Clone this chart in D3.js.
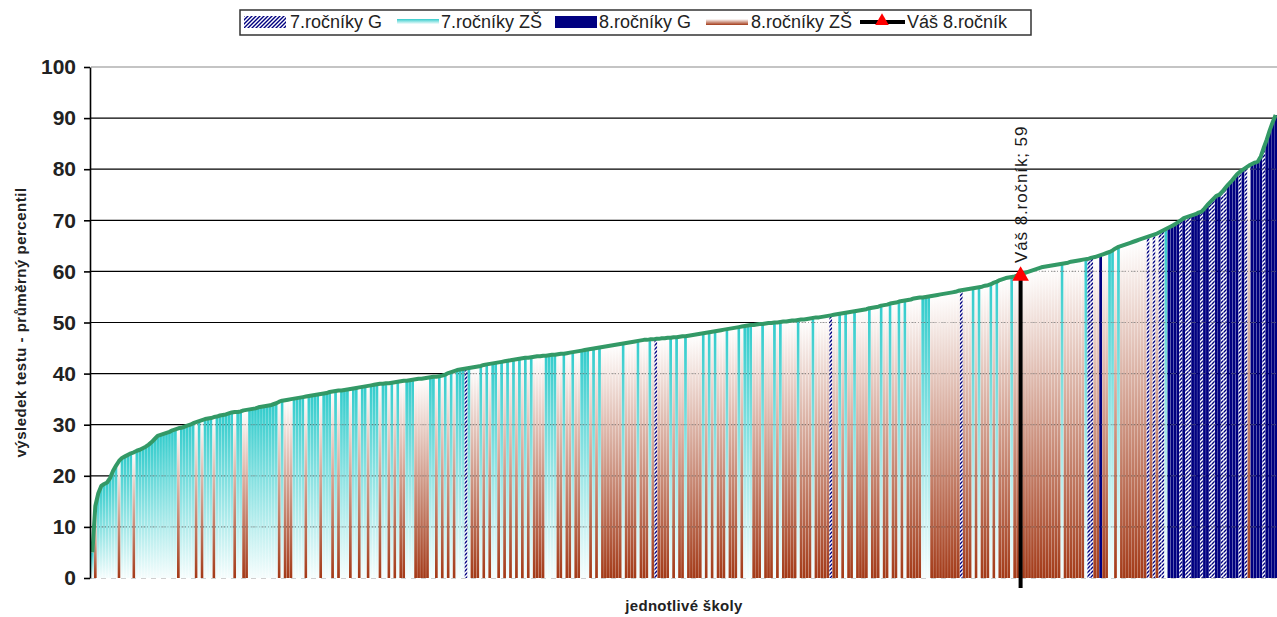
<!DOCTYPE html>
<html>
<head>
<meta charset="utf-8">
<script src="https://cdn.jsdelivr.net/npm/d3@7"></script>
<style>
    body { margin: 0; background: #fff; }
    text { font-family: "Liberation Sans", Arial, sans-serif; }
</style>
</head>
<body>
<svg id="graf" width="1277" height="617"></svg>
<script>
// výsledky jednotlivých škol, seřazené vzestupně
var hodnotySkol = [
    5.0, 14.1, 16.6, 18.0, 18.4, 18.7, 19.6, 21.0, 22.0, 22.9,
    23.5, 23.8, 24.1, 24.4, 24.6, 24.9, 25.1, 25.4, 25.7, 26.1,
    26.6, 27.2, 27.8, 28.0, 28.2, 28.4, 28.6, 28.9, 29.1, 29.3,
    29.4, 29.6, 29.8, 30.0, 30.3, 30.5, 30.7, 30.9, 31.1, 31.2,
    31.3, 31.5, 31.6, 31.8, 31.9, 32.0, 32.2, 32.4, 32.5, 32.5,
    32.6, 32.8, 32.9, 33.0, 33.1, 33.2, 33.4, 33.5, 33.6, 33.7,
    33.8, 34.0, 34.2, 34.5, 34.7, 34.8, 34.9, 35.0, 35.1, 35.2,
    35.3, 35.4, 35.5, 35.6, 35.7, 35.8, 35.9, 36.0, 36.1, 36.2,
    36.4, 36.5, 36.6, 36.7, 36.7, 36.8, 36.9, 37.0, 37.1, 37.2,
    37.3, 37.4, 37.5, 37.6, 37.7, 37.8, 37.9, 38.0, 38.0, 38.1,
    38.1, 38.2, 38.3, 38.4, 38.5, 38.6, 38.6, 38.7, 38.8, 38.9,
    39.0, 39.0, 39.1, 39.2, 39.3, 39.4, 39.4, 39.5, 39.6, 39.8,
    40.1, 40.3, 40.5, 40.7, 40.8, 40.9, 41.0, 41.1, 41.2, 41.3,
    41.4, 41.5, 41.7, 41.8, 41.9, 42.0, 42.1, 42.2, 42.3, 42.4,
    42.5, 42.6, 42.7, 42.8, 42.9, 43.0, 43.1, 43.1, 43.2, 43.3,
    43.4, 43.4, 43.5, 43.5, 43.6, 43.7, 43.7, 43.8, 43.9, 43.9,
    44.0, 44.1, 44.2, 44.3, 44.4, 44.5, 44.6, 44.7, 44.8, 44.9,
    45.0, 45.1, 45.2, 45.3, 45.4, 45.5, 45.6, 45.7, 45.8, 45.9,
    46.0, 46.1, 46.2, 46.3, 46.4, 46.5, 46.6, 46.6, 46.7, 46.7,
    46.8, 46.8, 46.9, 46.9, 47.0, 47.0, 47.1, 47.1, 47.2, 47.3,
    47.3, 47.4, 47.5, 47.6, 47.7, 47.8, 47.9, 48.0, 48.1, 48.2,
    48.3, 48.4, 48.5, 48.6, 48.7, 48.8, 48.9, 49.0, 49.1, 49.2,
    49.3, 49.4, 49.5, 49.5, 49.6, 49.7, 49.7, 49.8, 49.9, 49.9,
    50.0, 50.0, 50.1, 50.2, 50.2, 50.3, 50.4, 50.4, 50.5, 50.6,
    50.6, 50.7, 50.8, 50.9, 51.0, 51.0, 51.1, 51.2, 51.3, 51.4,
    51.5, 51.6, 51.7, 51.8, 51.9, 52.0, 52.1, 52.2, 52.3, 52.4,
    52.5, 52.6, 52.8, 52.9, 53.0, 53.1, 53.3, 53.4, 53.5, 53.7,
    53.8, 53.9, 54.1, 54.2, 54.3, 54.4, 54.5, 54.7, 54.8, 54.9,
    54.9, 55.0, 55.1, 55.2, 55.3, 55.4, 55.5, 55.6, 55.7, 55.8,
    55.9, 56.0, 56.2, 56.3, 56.4, 56.5, 56.6, 56.7, 56.8, 56.9,
    57.0, 57.2, 57.3, 57.5, 57.8, 58.0, 58.3, 58.5, 58.7, 58.8,
    58.9, 59.0, 59.2, 59.3, 59.6, 59.8, 60.0, 60.2, 60.4, 60.6,
    60.8, 60.9, 61.0, 61.1, 61.2, 61.3, 61.4, 61.5, 61.6, 61.7,
    61.9, 62.0, 62.1, 62.2, 62.3, 62.4, 62.5, 62.7, 62.8, 63.0,
    63.2, 63.4, 63.6, 63.8, 64.1, 64.5, 64.8, 65.0, 65.2, 65.4,
    65.6, 65.8, 66.0, 66.2, 66.4, 66.6, 66.8, 67.0, 67.2, 67.4,
    67.7, 68.0, 68.3, 68.6, 68.9, 69.2, 69.6, 70.0, 70.4, 70.6,
    70.8, 71.0, 71.2, 71.5, 71.7, 72.3, 73.0, 73.6, 74.2, 74.8,
    75.0, 75.6, 76.3, 77.0, 77.6, 78.3, 79.0, 79.5, 79.9, 80.3,
    80.7, 81.0, 81.3, 81.5, 82.5, 84.2, 85.8, 87.6, 89.2, 90.6
];

// typ školy: h = 7.ročníky G, c = 7.ročníky ZŠ, g = 8.ročníky G, b = 8.ročníky ZŠ
var typySkol = [
    "cbcccccccb", "ccccbccccc", "cccccccccb", "cccccbcbcc", "cbccccccbc",
    "cbbccccccc", "cccbcbbbcc", "ccbccccbcc", "cbcbcccbcc", "bccbcccbcc",
    "bcbcbbcccb", "bbbbccbcbc", "bcbccchcbb", "bcbcbccbcb", "cbcbcbcbcb",
    "bbbccccbbc", "bbcbbcccbc", "bcbbbbbbbc", "bbbbcbbbcb", "hbbbbcbcbb",
    "cbbbbbcbcb", "cbbbcbbbcb", "cccbbbcbbb", "cbcbbbbbcb", "bbbcbbbbbh",
    "bbcbcbbcbb", "bbcbbbcbbc", "bbcbcbbbbb", "cccbbbbbbb", "bbbhbbbcbc",
    "bbbcbcbbbb", "cbbbbbbbbb", "bbbbbbbcbb", "bbbbbchhbb", "gbbccbcbbb",
    "bbbbbbhbhb", "hhcgggghgh", "hggghgghhg", "ghhgggghgh", "bgggghgggg"
].join("").split("");

var yTicks = [0, 10, 20, 30, 40, 50, 60, 70, 80, 90, 100];
var legendaPopisky = ["7.ročníky G", "7.ročníky ZŠ", "8.ročníky G", "8.ročníky ZŠ", "Váš 8.ročník"];
var vasIndex = 313;
var vasHodnota = 59.3;
var vasPopisek = "Váš 8.ročník";

var plotLeft = 91, plotRight = 1277, plotTop = 67, plotBottom = 578;

var palette = {
    "cyan": "#33cccc",
    "brown": "#a33a18",
    "navy": "#000080",
    "green": "#339966",
    "red": "#ff0000",
    "text": "#1a1a1a"
};

var x = d3.scaleBand()
    .domain(d3.range(hodnotySkol.length))
    .range([plotLeft, plotRight])
    .paddingInner(0.08);

var y = d3.scaleLinear()
    .domain([0, 100])
    .range([plotBottom, plotTop]);

var svg = d3.select("#graf");
var defs = svg.append("defs");

var grCyan = defs.append("linearGradient").attr("id", "grCyan")
    .attr("x1", 0).attr("y1", 0).attr("x2", 0).attr("y2", 1);
grCyan.append("stop").attr("offset", "0%").attr("stop-color", palette.cyan);
grCyan.append("stop").attr("offset", "100%").attr("stop-color", "#f6fdfd");

var grBrown = defs.append("linearGradient").attr("id", "grBrown")
    .attr("x1", 0).attr("y1", 0).attr("x2", 0).attr("y2", 1);
grBrown.append("stop").attr("offset", "0%").attr("stop-color", "#ffffff");
grBrown.append("stop").attr("offset", "100%").attr("stop-color", palette.brown);

var hatch = defs.append("pattern").attr("id", "hatch")
    .attr("patternUnits", "userSpaceOnUse")
    .attr("width", 4).attr("height", 4);
hatch.append("rect").attr("width", 4).attr("height", 4).attr("fill", "#ffffff");
hatch.append("path")
    .attr("d", "M-1,1 l2,-2 M0,4 l4,-4 M3,5 l2,-2")
    .attr("stroke", palette.navy)
    .attr("stroke-width", 1.4);

var vyplne = {
    "c": "url(#grCyan)",
    "b": "url(#grBrown)",
    "g": palette.navy,
    "h": "url(#hatch)"
};

//MŘÍŽKA
svg.append("g").selectAll("line")
    .data(yTicks.filter(function(t) { return t > 0; }))
    .enter().append("line")
    .attr("x1", plotLeft).attr("x2", plotRight)
    .attr("y1", function(d) { return y(d); })
    .attr("y2", function(d) { return y(d); })
    .attr("stroke", function(d) { return d == 100 ? "#8a8a8a" : "#000000"; })
    .attr("stroke-width", 1.2);

//SLOUPCE
var bw = x.bandwidth();
svg.append("g").selectAll("rect")
    .data(hodnotySkol)
    .enter().append("rect")
    .attr("x", function(d, i) { return x(i); })
    .attr("y", function(d) { return y(d); })
    .attr("width", bw)
    .attr("height", function(d) { return y(0) - y(d); })
    .attr("fill", function(d, i) { return vyplne[typySkol[i]]; });

// mřížka přes sloupce - jen světle čárkovaně
var clip = defs.append("clipPath").attr("id", "podSloupci");
clip.selectAll("rect")
    .data(hodnotySkol)
    .enter().append("rect")
    .attr("x", function(d, i) { return x(i) - 1; })
    .attr("y", function(d) { return y(d); })
    .attr("width", bw + 2)
    .attr("height", function(d) { return y(0) - y(d); });

svg.append("g").attr("clip-path", "url(#podSloupci)")
    .selectAll("line")
    .data(yTicks.filter(function(t) { return t > 0 && t < 100; }))
    .enter().append("line")
    .attr("x1", plotLeft).attr("x2", plotRight)
    .attr("y1", function(d) { return y(d); })
    .attr("y2", function(d) { return y(d); })
    .attr("stroke", "#8c8c8c")
    .attr("stroke-opacity", 0.45)
    .attr("stroke-dasharray", "5,5");

svg.append("line")
    .attr("x1", plotLeft).attr("x2", plotRight)
    .attr("y1", y(0) + 0.5).attr("y2", y(0) + 0.5)
    .attr("stroke", "#cfcfcf")
    .attr("stroke-dasharray", "5,5");

//ČÁRA
var cara = d3.line()
    .x(function(d, i) { return x(i) + bw / 2; })
    .y(function(d) { return y(d); });

svg.append("path")
    .datum(hodnotySkol)
    .attr("d", cara)
    .attr("fill", "none")
    .attr("stroke", palette.green)
    .attr("stroke-width", 4)
    .attr("stroke-linejoin", "round");

//VÁŠ 8.ROČNÍK
var vx = x(vasIndex) + bw / 2;
svg.append("line")
    .attr("x1", vx).attr("x2", vx)
    .attr("y1", y(vasHodnota)).attr("y2", y(0) + 10)
    .attr("stroke", "#000000")
    .attr("stroke-width", 4);

svg.append("path")
    .attr("d", d3.symbol().type(d3.symbolTriangle).size(120)())
    .attr("transform", "translate(" + vx + "," + (y(vasHodnota) + 1) + ")")
    .attr("fill", palette.red);

svg.append("text")
    .text(vasPopisek + "; " + d3.format(".0f")(vasHodnota))
    .attr("transform", "translate(" + (vx + 6) + "," + (y(vasHodnota) - 12) + ") rotate(-90)")
    .attr("font-size", "17px")
    .attr("letter-spacing", "0.9px")
    .attr("fill", palette.text);

//OSA Y
var osa = svg.append("g")
    .attr("transform", "translate(" + (plotLeft - 1) + ",0)")
    .call(d3.axisLeft(y).tickValues(yTicks).tickSize(6).tickSizeOuter(0).tickPadding(8));
osa.select(".domain").attr("stroke", "#000").attr("stroke-width", 1.6);
osa.selectAll(".tick line").attr("stroke", "#000").attr("stroke-width", 1.6);
osa.selectAll(".tick text")
    .attr("font-family", "Liberation Sans, Arial, sans-serif")
    .attr("font-size", "21px")
    .attr("font-weight", "bold")
    .attr("fill", "#222");

svg.append("text")
    .text("výsledek testu - průměrný percentil")
    .attr("transform", "translate(26," + ((plotTop + plotBottom) / 2) + ") rotate(-90)")
    .attr("text-anchor", "middle")
    .attr("font-size", "15px")
    .attr("font-weight", "bold")
    .attr("letter-spacing", "0.5px")
    .attr("fill", "#222");

svg.append("text")
    .text("jednotlivé školy")
    .attr("x", (plotLeft + plotRight) / 2)
    .attr("y", 611)
    .attr("text-anchor", "middle")
    .attr("font-size", "15px")
    .attr("font-weight", "bold")
    .attr("letter-spacing", "0.3px")
    .attr("fill", "#222");

//LEGENDA
var leg = svg.append("g");
leg.append("rect")
    .attr("x", 240).attr("y", 10)
    .attr("width", 791).attr("height", 25)
    .attr("fill", "#fff")
    .attr("stroke", "#333")
    .attr("stroke-width", 1.5);

var legX = [244, 397, 555, 706, 860];
var legTextX = [290, 441, 599, 751, 907];

leg.append("rect").attr("x", legX[0]).attr("y", 16).attr("width", 42).attr("height", 12).attr("fill", "url(#hatch)");
leg.append("rect").attr("x", legX[1]).attr("y", 19).attr("width", 42).attr("height", 5).attr("fill", "url(#grCyan)");
leg.append("rect").attr("x", legX[2]).attr("y", 16).attr("width", 42).attr("height", 12).attr("fill", palette.navy);
leg.append("rect").attr("x", legX[3]).attr("y", 19).attr("width", 42).attr("height", 6).attr("fill", "url(#grBrown)");
leg.append("line").attr("x1", legX[4]).attr("x2", legX[4] + 45).attr("y1", 22).attr("y2", 22)
    .attr("stroke", "#000").attr("stroke-width", 4);
leg.append("path")
    .attr("d", d3.symbol().type(d3.symbolTriangle).size(80)())
    .attr("transform", "translate(" + (legX[4] + 22) + ",21)")
    .attr("fill", palette.red);

leg.selectAll("text")
    .data(legendaPopisky)
    .enter().append("text")
    .text(function(d) { return d; })
    .attr("x", function(d, i) { return legTextX[i]; })
    .attr("y", 28)
    .attr("font-size", "18px")
    .attr("fill", "#222");
</script>
</body>
</html>
